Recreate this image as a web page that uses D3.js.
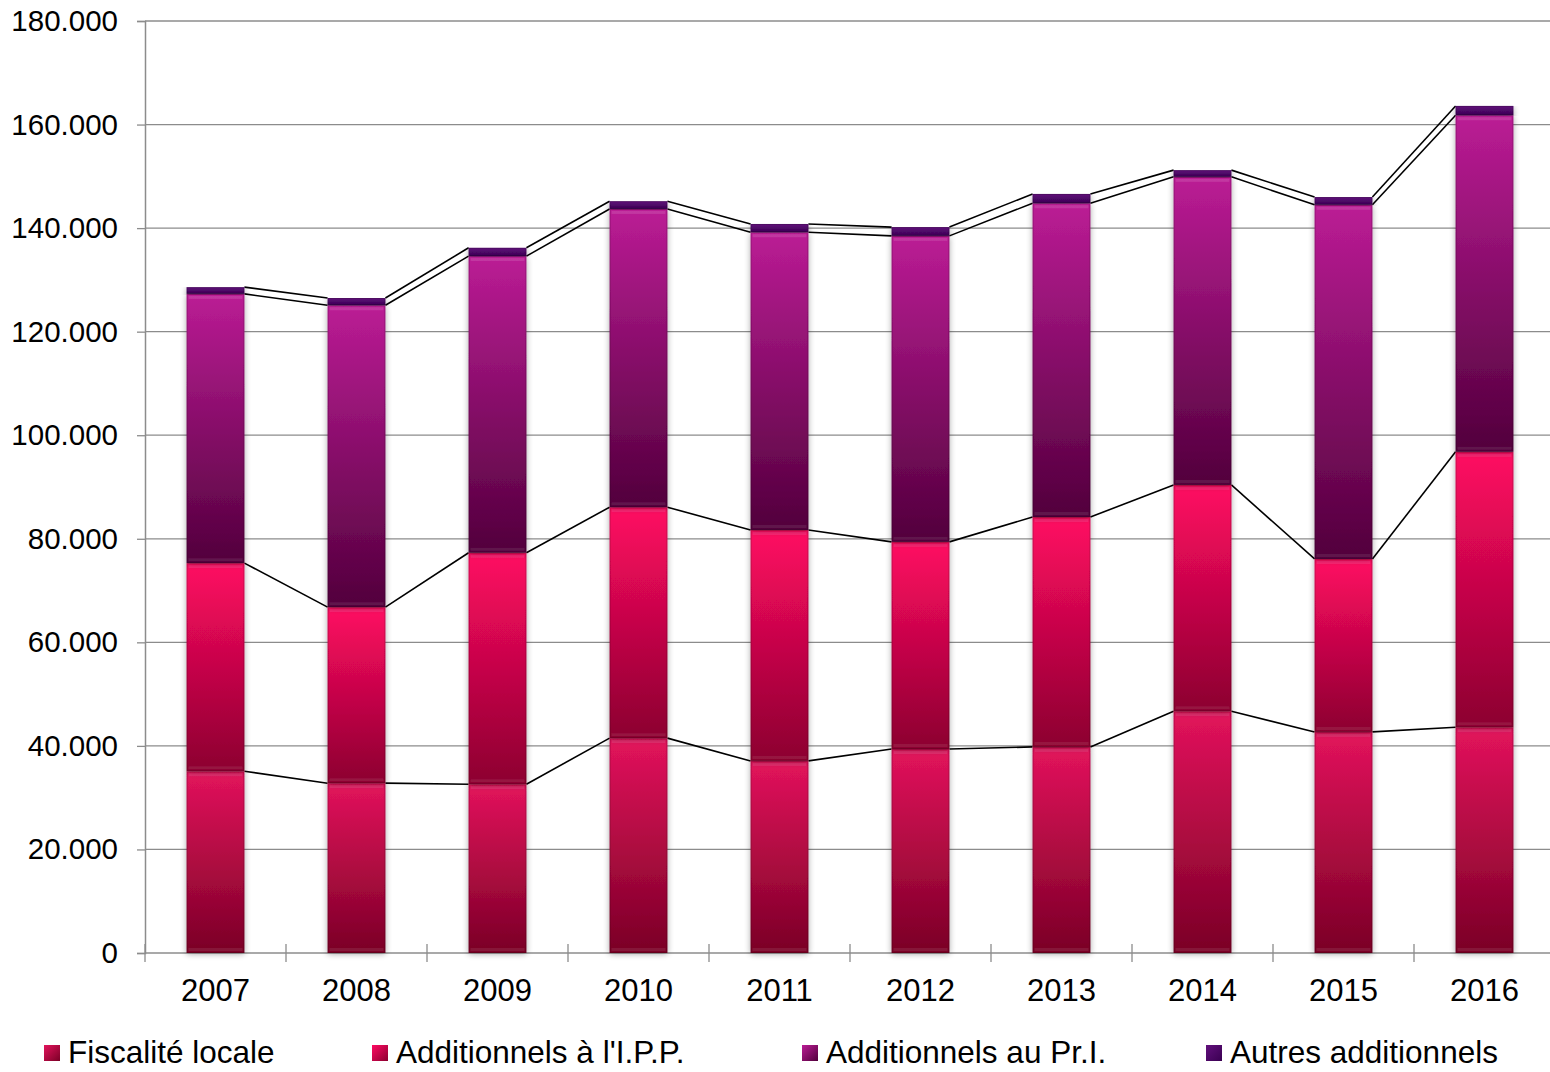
<!DOCTYPE html>
<html><head><meta charset="utf-8">
<script src="https://cdn.jsdelivr.net/npm/d3@7"></script>
<style>body{margin:0;background:#fff;}svg{display:block;font-family:"Liberation Sans",Arial,sans-serif;}</style>
</head><body><svg id="c" width="1550" height="1072"></svg>
<script>
const years = ["2007","2008","2009","2010","2011","2012","2013","2014","2015","2016"];
const seriesNames = ["Fiscalité locale","Additionnels à l'I.P.P.","Additionnels au Pr.I.","Autres additionnels"];
const fiscaliteLocale = [35100,32800,32600,41500,37100,39400,39800,46700,42700,43600];
const addIPP =        [40200,34000,44700,44600,44600,40000,44400,43700,33400,53200];
const addPrI =        [52000,58300,57300,57600,57500,59100,60600,59500,68400,65000];
const autres =        [1300,1400,1600,1500,1600,1700,1800,1300,1500,1800];
const yTicks = [0,20000,40000,60000,80000,100000,120000,140000,160000,180000];
const colorsTop = ["#e3135c","#ff0a62","#bb1c95","#62107c"];
const colorsBot = ["#7a0026","#8c0030","#52003c","#3a0052"];

const svg = d3.select("#c");
const L=145, R=1555, T=21, B=953;
const x = d3.scaleBand().domain(years).range([L,R]).padding(0);
const y = d3.scaleLinear().domain([0,180000]).range([B,T]);
const barW = x.bandwidth()*0.41;
const fmt = v => d3.format(",")(v).replace(/,/g,".");

const defs = svg.append("defs");
seriesNames.forEach((s,i)=>{
  const g = defs.append("linearGradient").attr("id","g"+i).attr("x1",0).attr("x2",0).attr("y1",0).attr("y2",1);
  g.append("stop").attr("offset","0%").attr("stop-color",colorsTop[i]);
  g.append("stop").attr("offset","100%").attr("stop-color",colorsBot[i]);
  const h = defs.append("linearGradient").attr("id","h"+i).attr("x1",0).attr("x2",1).attr("y1",0).attr("y2",1);
  h.append("stop").attr("offset","0%").attr("stop-color",colorsTop[i]);
  h.append("stop").attr("offset","100%").attr("stop-color",colorsBot[i]);
});
const f = defs.append("filter").attr("id","sh").attr("x","-20%").attr("y","-5%").attr("width","140%").attr("height","110%");
f.append("feGaussianBlur").attr("in","SourceAlpha").attr("stdDeviation",3).attr("result","b");
f.append("feOffset").attr("in","b").attr("dx",0).attr("dy",1).attr("result","o");
f.append("feComponentTransfer").attr("in","o").attr("result","o2").append("feFuncA").attr("type","linear").attr("slope",0.35);
const m = f.append("feMerge"); m.append("feMergeNode").attr("in","o2"); m.append("feMergeNode").attr("in","SourceGraphic");

// gridlines
svg.append("g").selectAll("line").data(yTicks.filter(d=>d>0)).join("line")
  .attr("x1",L).attr("x2",1550).attr("y1",d=>y(d)).attr("y2",d=>y(d))
  .attr("stroke","#8c8c8c").attr("stroke-width",1.3);

// y axis
const ya = svg.append("g").attr("transform",`translate(${L},0)`)
  .call(d3.axisLeft(y).tickValues(yTicks).tickFormat(fmt).tickSize(8).tickPadding(19));
ya.select(".domain").attr("stroke","#8c8c8c").attr("stroke-width",1.5);
ya.selectAll(".tick line").attr("stroke","#8c8c8c").attr("stroke-width",1.3);
ya.selectAll("text").attr("font-size",29.5).attr("fill","#000").attr("font-family","'Liberation Sans',Arial,sans-serif");

// x axis
svg.append("line").attr("x1",L).attr("x2",1550).attr("y1",B).attr("y2",B).attr("stroke","#8c8c8c").attr("stroke-width",1.5);
const bounds = years.map(d=>x(d)).concat([R]).filter(v=>v<=1550);
svg.append("g").selectAll("line").data(bounds).join("line")
  .attr("x1",d=>d).attr("x2",d=>d).attr("y1",B-9).attr("y2",B+9).attr("stroke","#8c8c8c").attr("stroke-width",1.3);
svg.append("g").selectAll("text").data(years).join("text")
  .attr("x",d=>x(d)+x.bandwidth()/2).attr("y",1001).attr("text-anchor","middle")
  .attr("font-size",31).text(d=>d);

// stack
const rows = years.map((yr,i)=>({year:yr, s0:fiscaliteLocale[i], s1:addIPP[i], s2:addPrI[i], s3:autres[i]}));
const stack = d3.stack().keys(["s0","s1","s2","s3"])(rows);

// series lines
stack.forEach((layer,k)=>{
  const g = svg.append("g");
  for(let i=0;i<years.length-1;i++){
    const x1 = x(years[i])+x.bandwidth()/2+barW/2, x2 = x(years[i+1])+x.bandwidth()/2-barW/2;
    g.append("line").attr("x1",x1).attr("x2",x2).attr("y1",y(layer[i][1])).attr("y2",y(layer[i+1][1]))
      .attr("stroke","#000").attr("stroke-width",1.6);
  }
});

// bars
stack.forEach((layer,k)=>{
  const g = svg.append("g");
  layer.forEach((d,i)=>{
    const bx = x(years[i])+x.bandwidth()/2-barW/2;
    const y0 = y(d[1]), h = y(d[0])-y(d[1]);
    const bg = g.append("g").attr("filter","url(#sh)");
    bg.append("rect").attr("x",bx).attr("y",y0).attr("width",barW).attr("height",h).attr("fill",`url(#g${k})`);
    if(h>12){
      bg.append("rect").attr("x",bx+2).attr("y",y0+2).attr("width",barW-4).attr("height",3).attr("fill","#fff").attr("opacity",0.12);
      bg.append("rect").attr("x",bx+2).attr("y",y0+h-5).attr("width",barW-4).attr("height",3).attr("fill","#fff").attr("opacity",0.08);
    }
    bg.append("rect").attr("x",bx+0.5).attr("y",y0+0.5).attr("width",barW-1).attr("height",Math.max(0,h-1))
      .attr("fill","none").attr("stroke","#000").attr("stroke-opacity",0.18).attr("stroke-width",1);
  });
});

// legend
const legX = [44,372,802,1206];
const lg = svg.append("g");
seriesNames.forEach((s,i)=>{
  lg.append("rect").attr("x",legX[i]).attr("y",1045).attr("width",16).attr("height",16).attr("fill",`url(#h${i})`);
  lg.append("text").attr("x",legX[i]+24).attr("y",1063).attr("font-size",31.5).text(s);
});
</script></body></html>
